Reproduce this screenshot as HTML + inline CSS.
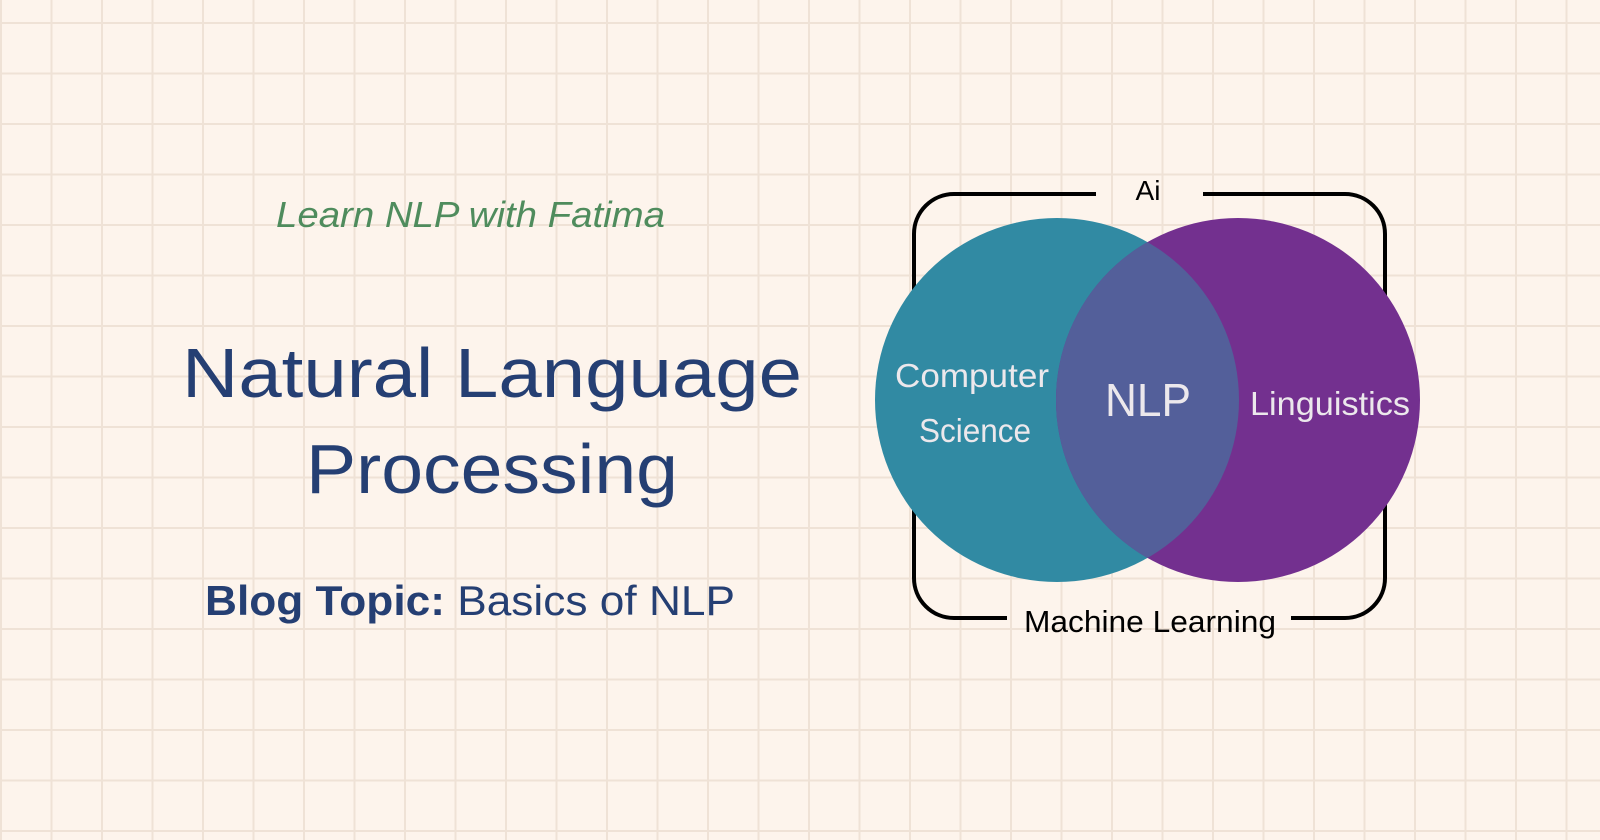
<!DOCTYPE html>
<html><head><meta charset="utf-8"><style>
html,body{margin:0;padding:0;}
body{width:1600px;height:840px;overflow:hidden;background:#fdf4ec;}
svg{display:block}
</style></head><body>
<svg width="1600" height="840" viewBox="0 0 1600 840" xmlns="http://www.w3.org/2000/svg">
<defs>
<pattern id="g" x="0" y="22" width="50.5" height="50.5" patternUnits="userSpaceOnUse">
<path d="M1 0V50.5M0 1H50.5" stroke="#efe2d6" stroke-width="2" fill="none"/>
</pattern>
<clipPath id="lc"><circle cx="1057" cy="400" r="182"/></clipPath>
</defs>
<rect width="1600" height="840" fill="#fdf4ec"/>
<rect width="1600" height="840" fill="url(#g)"/>

<text x="276" y="227" font-family="Liberation Sans, sans-serif" font-style="italic" font-size="36" fill="#4f8c5d" textLength="389" lengthAdjust="spacingAndGlyphs">Learn NLP with Fatima</text>
<text x="182" y="397" font-family="Liberation Sans, sans-serif" font-size="70" fill="#253f73" textLength="620" lengthAdjust="spacingAndGlyphs">Natural Language</text>
<text x="306" y="493" font-family="Liberation Sans, sans-serif" font-size="70" fill="#253f73" textLength="372" lengthAdjust="spacingAndGlyphs">Processing</text>
<text x="205" y="615" font-family="Liberation Sans, sans-serif" font-size="42" fill="#253f73" textLength="530" lengthAdjust="spacingAndGlyphs"><tspan font-weight="bold">Blog Topic:</tspan> Basics of NLP</text>

<path d="M1096 194H954a40 40 0 0 0-40 40V578a40 40 0 0 0 40 40H1007M1291 618H1345a40 40 0 0 0 40-40V234a40 40 0 0 0-40-40H1203" fill="none" stroke="#000" stroke-width="4"/>

<circle cx="1057" cy="400" r="182" fill="#318aa3"/>
<circle cx="1238" cy="400" r="182" fill="#73308f"/>
<circle cx="1238" cy="400" r="182" fill="#535f9a" clip-path="url(#lc)"/>

<text x="1148" y="200" text-anchor="middle" font-family="Liberation Sans, sans-serif" font-size="28" fill="#000">Ai</text>
<text x="1150" y="632" text-anchor="middle" font-family="Liberation Sans, sans-serif" font-size="31" fill="#000" textLength="252" lengthAdjust="spacingAndGlyphs">Machine Learning</text>
<text x="972" y="387" text-anchor="middle" font-family="Liberation Sans, sans-serif" font-size="33" fill="#ece8ec" textLength="154" lengthAdjust="spacingAndGlyphs">Computer</text>
<text x="975" y="442" text-anchor="middle" font-family="Liberation Sans, sans-serif" font-size="33" fill="#ece8ec" textLength="112" lengthAdjust="spacingAndGlyphs">Science</text>
<text x="1148" y="416" text-anchor="middle" font-family="Liberation Sans, sans-serif" font-size="46" fill="#ece8ec" textLength="86" lengthAdjust="spacingAndGlyphs">NLP</text>
<text x="1330" y="415" text-anchor="middle" font-family="Liberation Sans, sans-serif" font-size="33" fill="#ece8ec" textLength="160" lengthAdjust="spacingAndGlyphs">Linguistics</text>
</svg>
</body></html>
